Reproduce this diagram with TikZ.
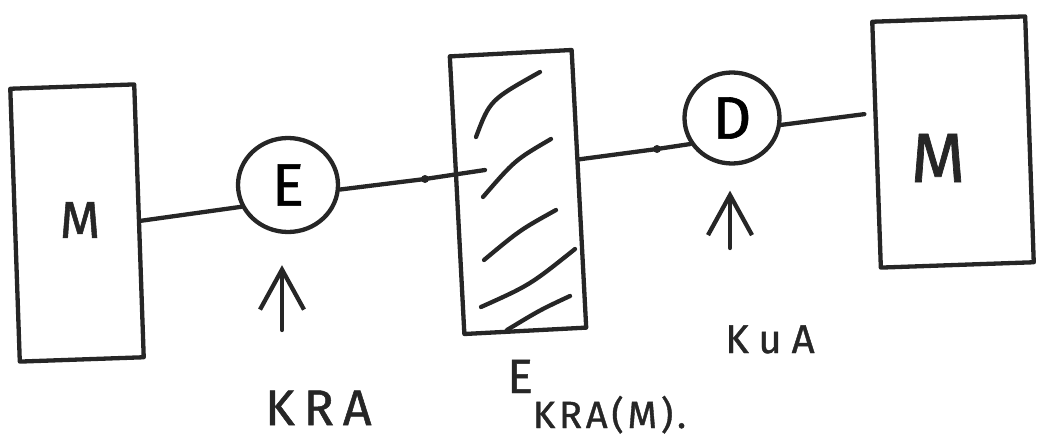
\documentclass[tikz,border=0pt]{standalone}
\usepackage{fontspec}
\setmainfont{Fira Sans}
\usetikzlibrary{arrows.meta,shapes.geometric}
\definecolor{ink}{HTML}{262626}
\begin{document}
\begin{tikzpicture}[x=1pt,y=-1pt,
  pen/.style={draw=ink,line width=4.3pt,line cap=round,line join=round},
  boxnode/.style={pen,rectangle,inner sep=0pt},
  ring/.style={pen,ellipse,inner sep=0pt},
  dotmark/.style={circle,fill=ink,inner sep=0pt,minimum size=8pt},
  keyarrow/.style={pen,-{Straight Barb[length=40pt,width=44pt]}},
  lbl/.style={text=ink,inner sep=0pt}
]
\useasboundingbox (0,0) rectangle (1040,441);

% boxes
\node[boxnode,rotate=2,minimum width=124pt,minimum height=273pt] (lb) at (77,223) {};
\node[boxnode,rotate=3,minimum width=122pt,minimum height=278pt] (hb) at (518,192) {};
\node[boxnode,rotate=2,minimum width=153pt,minimum height=246pt] (rb) at (953,142) {};

% box letters
\node[lbl,font=\fontsize{52}{52}\selectfont\addfontfeature{FakeBold=1}] (m1) at (80,220) {M};
\node[lbl,font=\fontsize{70}{70}\selectfont\addfontfeature{FakeBold=1}] (m2) at (938,158) {M};

% hatching
\draw[pen] (476,137) .. controls (490,100) .. (540,72);
\draw[pen] (483,197) .. controls (515,160) .. (551,139);
\draw[pen] (484,260) .. controls (520,230) .. (556,210);
\draw[pen] (481,307) .. controls (530,285) .. (575,249);
\draw[pen] (507,330) .. controls (540,310) .. (570,296);

% encrypt / decrypt
\node[ring,minimum width=100pt,minimum height=94pt,font=\fontsize{60}{60}\selectfont\addfontfeature{FakeBold=1}] (E) at (288,185) {E};
\node[ring,minimum width=95pt,minimum height=91pt,font=\fontsize{60}{60}\selectfont\addfontfeature{FakeBold=1}] (D) at (732,118) {D};

% dots and free ends
\node[dotmark] (d1) at (425,179) {};
\node[dotmark] (d2) at (657,149) {};
\coordinate (hin) at (485,170);
\coordinate (ka) at (282,330);
\coordinate (kd) at (730,248);

% connectors
\draw[pen] (lb.east) -- (E.205);
\draw[pen] (E.355) -- (d1.center) -- (hin);
\draw[pen] (hb.25) -- (d2.center) -- (D.212);
\draw[pen,shorten >=9pt] (D.352) -- (rb.158);

% key arrows
\draw[keyarrow,shorten >=31pt] (ka) -- (ka |- E.south);
\draw[keyarrow,shorten >=25pt] (kd) -- (kd |- D.south);

% labels
\node[lbl,anchor=base west,font=\fontsize{50}{50}\selectfont\addfontfeature{LetterSpace=18,FakeBold=1}] (kra) at (265,425) {KRA};
\node[lbl,anchor=base west,font=\fontsize{48}{48}\selectfont\addfontfeature{FakeBold=1}] (ekra) at (507,393) {E\raisebox{-35pt}{\fontsize{38}{38}\selectfont\addfontfeature{LetterSpace=10}KRA(M).}};
\node[lbl,anchor=base west,font=\fontsize{40}{40}\selectfont\addfontfeature{LetterSpace=25,FakeBold=1}] (kua) at (725,353) {KuA};
\end{tikzpicture}
\end{document}
